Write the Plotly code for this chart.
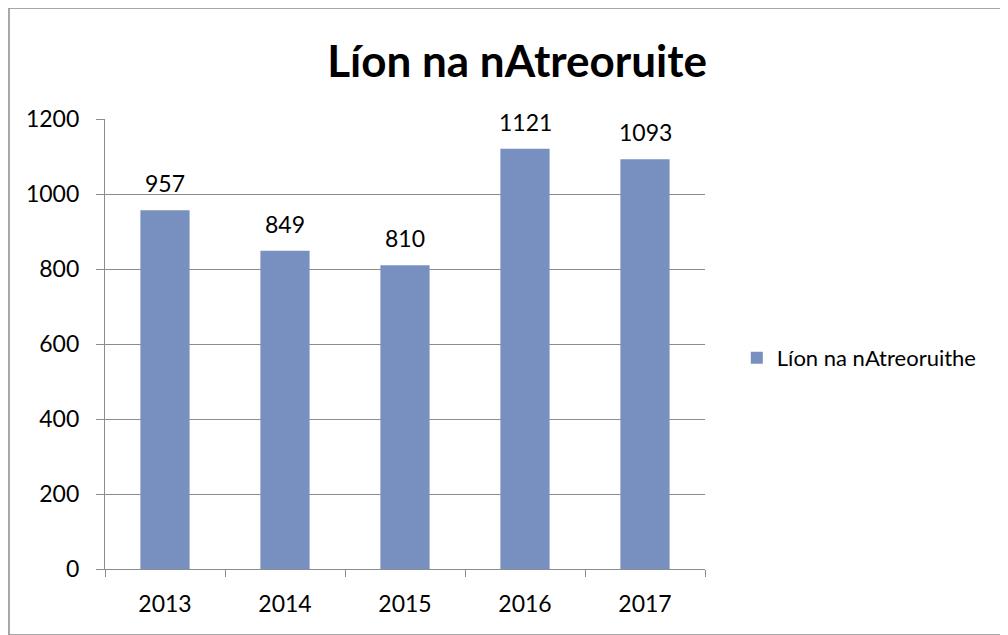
import plotly.graph_objects as go

years = ["2013", "2014", "2015", "2016", "2017"]
values = [957, 849, 810, 1121, 1093]
series_name = "Líon na nAtreoruithe"
title_text = "Líon na nAtreoruite"
y_ticks = [0, 200, 400, 600, 800, 1000, 1200]

FONT = "Lato, Calibri, sans-serif"

fig = go.Figure()
fig.add_trace(go.Bar(
    x=years, y=values, name=series_name,
    marker=dict(color="#7790c0", line=dict(width=0)),
    showlegend=True,
))

for i, v in enumerate(values):
    fig.add_annotation(x=i, y=v, xref="x", yref="y", text=str(v), showarrow=False,
                       yanchor="bottom", yshift=11,
                       font=dict(family=FONT, size=23, color="#000000"))

fig.update_layout(
    width=1008, height=635,
    margin=dict(l=97, r=311, t=111, b=74),
    paper_bgcolor="white", plot_bgcolor="white",
    font=dict(family=FONT, size=23, color="#000000"),
    title=dict(text="<b>" + title_text + "</b>", x=0.505, xanchor="center",
               y=0.915, yanchor="middle",
               font=dict(family=FONT, size=44, color="#000000")),
    bargap=0.59,
    showlegend=True,
    legend=dict(x=1.053, y=0.469, xanchor="left", yanchor="middle",
                font=dict(family=FONT, size=22, color="#000000"),
                bgcolor="rgba(0,0,0,0)"),
    shapes=[dict(type="rect", xref="paper", yref="paper",
                 x0=-96/600, x1=930/600, y0=-66/450, y1=561/450,
                 line=dict(color="#8c8c8c", width=1.5), fillcolor="rgba(0,0,0,0)",
                 layer="below")],
)

fig.update_yaxes(
    range=[0, 1200], tickvals=y_ticks, showgrid=True, gridcolor="#8c8c8c", gridwidth=1.3,
    showline=True, linecolor="#8c8c8c", linewidth=1.3,
    ticks="outside", ticklen=8, tickcolor="#8c8c8c", tickwidth=1.3,
    ticklabelstandoff=12,
    tickfont=dict(family=FONT, size=23), zeroline=False, fixedrange=True,
)
fig.update_xaxes(
    type="category", tickangle=0, range=[-0.5, len(years) - 0.5],
    showline=True, linecolor="#8c8c8c", linewidth=1.3,
    ticks="outside", tickson="boundaries", ticklen=7, tickcolor="#8c8c8c", tickwidth=1.3,
    ticklabelstandoff=14,
    tickfont=dict(family=FONT, size=23), showgrid=False,
)

fig.write_html("out.html")
